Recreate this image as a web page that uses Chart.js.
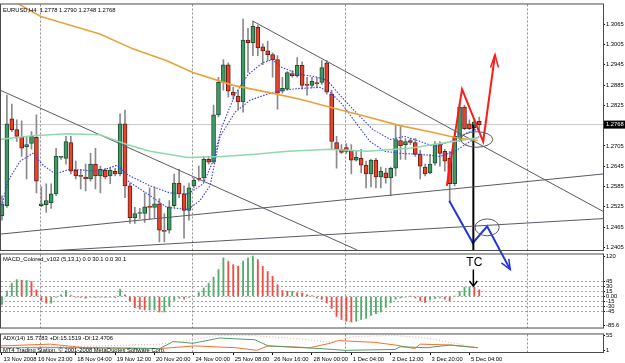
<!DOCTYPE html>
<html>
<head>
<meta charset="utf-8">
<title>EURUSD H4</title>
<script src="https://cdn.jsdelivr.net/npm/chart.js@4.4.1/dist/chart.umd.min.js"></script>
<style>
  html, body { margin: 0; padding: 0; background: #fff; }
  #wrap { position: relative; width: 625px; height: 363px; overflow: hidden; background: #fff; }
  #wrap canvas { position: absolute; left: 0; }
</style>
</head>
<body>
<div id="wrap">
  <canvas id="macdChart" width="625" height="82" style="top:250px"></canvas>
  <canvas id="adxChart" width="625" height="33" style="top:330px"></canvas>
  <canvas id="priceChart" width="625" height="363" style="top:0"></canvas>
</div>
<script>
// ---------------- data ----------------
const titleText = 'EURUSD,H4  1.2778 1.2790 1.2748 1.2768';
const timeLabels = ['13 Nov 2008', '16 Nov 23:00', '18 Nov 04:00', '19 Nov 12:00', '20 Nov 20:00', '24 Nov 00:00',
  '25 Nov 08:00', '26 Nov 16:00', '28 Nov 00:00', '1 Dec 04:00', '2 Dec 12:00', '3 Dec 20:00', '5 Dec 04:00'];
const timeLabelBars = [0, 7, 15, 23, 31, 39, 47, 55, 63, 71, 79, 87, 95];
const gridBars = [7.9, 38.8, 69.8, 106.8];
const priceTicks = [1.3065, 1.3005, 1.2945, 1.2885, 1.2825, 1.2705, 1.2645, 1.2585, 1.2525, 1.2465, 1.2405];
const macdTicks = [120, 45, 30, 15, 0, -15, -30, -45, -85.6];
const macdLevels = [45, 30, 15, 0, -15, -30, -45];
const adxTicks = [55, 1];

const opens = [1.2499, 1.2528, 1.2785, 1.2753, 1.2730, 1.2703, 1.2712, 1.2730, 1.2528, 1.2531,
  1.2537, 1.2563, 1.2671, 1.2668, 1.2715, 1.2633, 1.2616, 1.2613, 1.2607, 1.2651,
  1.2616, 1.2633, 1.2616, 1.2630, 1.2622, 1.2770, 1.2587, 1.2493, 1.2505, 1.2505,
  1.2525, 1.2523, 1.2534, 1.2453, 1.2456, 1.2528, 1.2595, 1.2563, 1.2514, 1.2587,
  1.2607, 1.2610, 1.2665, 1.2657, 1.2797, 1.2893, 1.2945, 1.2864, 1.2852, 1.2835,
  1.3018, 1.3010, 1.3056, 1.2998, 1.2986, 1.2975, 1.2960, 1.2867, 1.2873, 1.2919,
  1.2913, 1.2943, 1.2887, 1.2884, 1.2890, 1.2893, 1.2951, 1.2858, 1.2715, 1.2695,
  1.2700, 1.2692, 1.2663, 1.2668, 1.2648, 1.2622, 1.2663, 1.2613, 1.2625, 1.2610,
  1.2639, 1.2721, 1.2709, 1.2721, 1.2715, 1.2680, 1.2642, 1.2625, 1.2654, 1.2709,
  1.2689, 1.2668, 1.2593, 1.2727, 1.2820, 1.2770, 1.2759, 1.2778];
const highs = [1.2557, 1.2855, 1.2829, 1.2782, 1.2779, 1.2733, 1.2747, 1.2797, 1.2584, 1.2593,
  1.2593, 1.2698, 1.2674, 1.2733, 1.2733, 1.2660, 1.2636, 1.2651, 1.2683, 1.2698,
  1.2645, 1.2639, 1.2639, 1.2639, 1.2800, 1.2811, 1.2595, 1.2523, 1.2520, 1.2566,
  1.2581, 1.2584, 1.2549, 1.2505, 1.2543, 1.2622, 1.2636, 1.2587, 1.2595, 1.2610,
  1.2645, 1.2674, 1.2674, 1.2826, 1.2908, 1.2960, 1.2951, 1.2878, 1.2870, 1.3080,
  1.3053, 1.3074, 1.3062, 1.3007, 1.3015, 1.2980, 1.2972, 1.2908, 1.2925, 1.2928,
  1.2966, 1.2954, 1.2908, 1.2908, 1.2908, 1.2957, 1.2957, 1.2870, 1.2733, 1.2709,
  1.2712, 1.2709, 1.2689, 1.2695, 1.2660, 1.2665, 1.2668, 1.2642, 1.2639, 1.2642,
  1.2768, 1.2762, 1.2727, 1.2727, 1.2727, 1.2692, 1.2651, 1.2680, 1.2718, 1.2718,
  1.2695, 1.2689, 1.2747, 1.2829, 1.2826, 1.2782, 1.2785, 1.2790];
const lows = [1.2485, 1.2523, 1.2747, 1.2718, 1.2674, 1.2607, 1.2695, 1.2566, 1.2525, 1.2508,
  1.2520, 1.2558, 1.2665, 1.2651, 1.2622, 1.2607, 1.2578, 1.2572, 1.2601, 1.2578,
  1.2566, 1.2607, 1.2593, 1.2616, 1.2616, 1.2552, 1.2476, 1.2476, 1.2490, 1.2479,
  1.2488, 1.2493, 1.2421, 1.2421, 1.2447, 1.2523, 1.2552, 1.2432, 1.2485, 1.2581,
  1.2601, 1.2601, 1.2651, 1.2654, 1.2791, 1.2870, 1.2849, 1.2843, 1.2814, 1.2805,
  1.2922, 1.2972, 1.2972, 1.2945, 1.2957, 1.2908, 1.2814, 1.2861, 1.2870, 1.2908,
  1.2908, 1.2873, 1.2855, 1.2878, 1.2878, 1.2887, 1.2858, 1.2695, 1.2639, 1.2683,
  1.2683, 1.2622, 1.2660, 1.2625, 1.2581, 1.2584, 1.2581, 1.2581, 1.2595, 1.2558,
  1.2616, 1.2665, 1.2665, 1.2709, 1.2674, 1.2607, 1.2616, 1.2622, 1.2648, 1.2645,
  1.2630, 1.2543, 1.2587, 1.2718, 1.2753, 1.2753, 1.2753, 1.2748];
const closes = [1.2534, 1.2770, 1.2753, 1.2733, 1.2698, 1.2709, 1.2733, 1.2601, 1.2534, 1.2543,
  1.2563, 1.2674, 1.2672, 1.2718, 1.2630, 1.2616, 1.2615, 1.2607, 1.2651, 1.2616,
  1.2636, 1.2613, 1.2633, 1.2622, 1.2770, 1.2587, 1.2493, 1.2505, 1.2506, 1.2525,
  1.2523, 1.2534, 1.2456, 1.2452, 1.2525, 1.2595, 1.2563, 1.2514, 1.2581, 1.2604,
  1.2606, 1.2665, 1.2657, 1.2797, 1.2893, 1.2945, 1.2867, 1.2855, 1.2835, 1.3018,
  1.3010, 1.3059, 1.2995, 1.2986, 1.2975, 1.2960, 1.2861, 1.2875, 1.2922, 1.2913,
  1.2943, 1.2884, 1.2884, 1.2896, 1.2889, 1.2937, 1.2864, 1.2718, 1.2695, 1.2686,
  1.2689, 1.2663, 1.2671, 1.2648, 1.2622, 1.2663, 1.2613, 1.2630, 1.2610, 1.2639,
  1.2724, 1.2706, 1.2718, 1.2715, 1.2680, 1.2645, 1.2622, 1.2651, 1.2709, 1.2683,
  1.2660, 1.2593, 1.2733, 1.2820, 1.2756, 1.2756, 1.2776, 1.2768];

// moving averages: [bar, price]
const maOrange = [[3.2, 1.3126], [7.9, 1.3088], [13.2, 1.3065], [19.9, 1.3036], [26.6, 1.2992], [33.5, 1.2957],
  [38.8, 1.2922], [47.0, 1.2884], [53.9, 1.2864], [60.6, 1.2843], [67.3, 1.2817], [74.2, 1.2791],
  [80.9, 1.2765], [87.0, 1.2747], [92.1, 1.2730], [96.7, 1.2721]];
const maGreen = [[-0.4, 1.2724], [6.3, 1.2735], [13.2, 1.2741], [19.9, 1.2738], [25.4, 1.2709], [30.1, 1.2689],
  [37.8, 1.2671], [44.7, 1.2674], [51.4, 1.2680], [58.1, 1.2689], [66.7, 1.2695], [74.2, 1.2689],
  [82.9, 1.2698], [89.0, 1.2712], [93.1, 1.2721], [97.0, 1.2730]];
const maBlueFast = [[0, 1.2528], [1.2, 1.2601], [3.7, 1.2660], [6.3, 1.2683], [8.1, 1.2651], [10.8, 1.2622],
  [13.8, 1.2636], [19.9, 1.2630], [23.4, 1.2648], [25.6, 1.2619], [30.1, 1.2587], [34.1, 1.2566],
  [37.8, 1.2563], [40.9, 1.2593], [42.9, 1.2660], [44.7, 1.2762], [47.4, 1.2858], [50.0, 1.2916],
  [53.0, 1.2951], [54.9, 1.2960], [56.9, 1.2937], [60.6, 1.2916], [63.6, 1.2910], [66.1, 1.2899],
  [68.7, 1.2855], [71.3, 1.2814], [75.4, 1.2753], [78.9, 1.2724], [81.9, 1.2733], [85.0, 1.2718],
  [88.0, 1.2703], [91.1, 1.2718], [94.1, 1.2741], [97.0, 1.2756]];
const maBlueSlow = [[25.6, 1.2601], [30.1, 1.2558], [33.5, 1.2523], [37.8, 1.2517], [40.2, 1.2543], [42.3, 1.2587],
  [44.3, 1.2733], [47.4, 1.2805], [50.4, 1.2840], [53.9, 1.2858], [57.1, 1.2870], [60.6, 1.2875],
  [64.6, 1.2878], [66.7, 1.2864], [69.1, 1.2829], [72.2, 1.2768], [74.8, 1.2718], [77.8, 1.2689],
  [80.9, 1.2683], [85.0, 1.2680], [89.0, 1.2674], [92.1, 1.2689], [95.1, 1.2718], [97.0, 1.2733]];

// hand-drawn trend lines and arrows: [bar, price]
const trendLines = [
  [[-0.4, 1.2870], [72.2, 1.2397]],
  [[51.0, 1.3074], [122.2, 1.2511]],
  [[-0.4, 1.2444], [122.2, 1.2622]],
  [[-0.4, 1.2386], [122.2, 1.2490]]
];
const redPath = [[90.4, 1.2587], [93.5, 1.2873], [97.8, 1.2718], [100.2, 1.2975]];
const redHead = [[99.3, 1.2937], [100.2, 1.2975], [100.9, 1.2937]];
const bluePath = [[90.9, 1.2543], [95.7, 1.2418], [98.6, 1.2467], [103.3, 1.2339]];
const blueHead = [[101.5, 1.2359], [103.3, 1.2339], [103.0, 1.2371]];
const markerLine = [[95.8, 1.2768], [95.8, 1.2397]];
const ellipses = [[96.5, 1.2724, 3.25, 0.0023], [98.6, 1.2464, 2.45, 0.0025]];

const macdHist = [-25, 15, 40, 50, 48, 48, 45, 20, -12, -20,
  -20, -3, 5, 18, 3, -2, -3, -5, -2, -3,
  -2, -3, -2, -3, 22, 5, -15, -33, -38, -40,
  -40, -40, -46, -46, -30, -12, -5, -8, -3, 0,
  12, 25, 40, 57, 80, 115, 105, 95, 90, 105,
  115, 120, 110, 90, 75, 60, 35, 18, 15, 15,
  12, 10, 5, 3, -4, -8, -18, -36, -60, -69,
  -74, -76, -74, -69, -65, -56, -51, -46, -32, -18,
  -8, -4, -2, 1, -4, -13, -18, -10, -6, -4,
  -8, -13, 1, 15, 27, 29, 27, 20];
const tcArrow = [[95.8, 80], [95.8, 31]];
const tcHead = [[95.0, 46], [95.8, 31], [96.6, 46]];

const adxMain = [[-0.4, 10.5], [19.9, 16.9], [32.1, 23.3], [37.6, 36], [43.7, 54], [51.0, 54], [60.6, 42],
  [66.7, 30], [71.3, 50], [79.5, 55], [86.4, 45], [93.1, 23], [96.5, 10.5]];
const adxPlus = [[-0.4, 16.9], [9.8, 23.3], [16.9, 10.5], [32.1, 7.4], [39.2, 16.9], [47.4, 10.5], [51.8, 1],
  [54.1, 16.9], [62.6, 10.5], [66.7, 26.4], [68.3, 36], [75.8, 29.6], [79.9, 20.1], [83.9, 7.4],
  [85.0, 23.3], [91.1, 20.1], [96.7, 10.5]];
const adxMinus = [[-0.4, 10.5], [13.8, 10.5], [32.1, 7.4], [34.8, 32.8], [38.8, 26.4], [44.3, 45.5], [47.4, 42.3],
  [51.4, 39.1], [54.1, 16.9], [64.6, 7.4], [69.7, 1], [79.9, 4.2], [80.9, 13.7], [86.4, 10.5],
  [91.1, 20.1], [96.7, 10.5]];

// ---------------- setup ----------------
const FONT = '"Liberation Sans", Arial, sans-serif';
const SMALL = 5.8;
Chart.defaults.font.family = FONT;
Chart.defaults.font.size = SMALL;
Chart.defaults.color = '#000';

const xMin = -0.2, xMax = 122.15;
const bars = closes.map((c, i) => i);
const up = bars.map(i => closes[i] >= opens[i]);

function pts(arr) { return arr.map(p => ({ x: p[0], y: p[1] })); }
function lineDs(arr, color, width, extra) {
  return Object.assign({ type: 'line', data: pts(arr), borderColor: color, borderWidth: width,
    pointRadius: 0, tension: 0, fill: false, order: 0 }, extra || {});
}
function gridX() {
  return {
    type: 'linear', min: xMin, max: xMax, offset: false,
    ticks: { display: false },
    grid: { display: true, drawTicks: false, offset: false, color: '#8c8c8c', lineWidth: 1, borderDash: [2, 2] },
    border: { display: false, dash: [2, 2] },
    afterBuildTicks: s => { s.ticks = gridBars.map(v => ({ value: v })); },
    afterFit: s => { s.height = 0; }
  };
}
const framePlugin = {
  id: 'frame',
  afterDraw(chart) {
    const { ctx, chartArea: a } = chart;
    ctx.save();
    ctx.strokeStyle = '#4a4a4a';
    ctx.lineWidth = 1;
    ctx.strokeRect(a.left - 0.5, a.top - 0.5, a.right - a.left + 1, a.bottom - a.top + 1);
    ctx.restore();
  }
};
const common = { responsive: false, animation: false, events: [],
  plugins: { legend: { display: false }, tooltip: { enabled: false } } };

// ---------------- price chart ----------------
const mainOverlay = {
  id: 'mainOverlay',
  afterDatasetsDraw(chart) {
    const { ctx, chartArea: a, scales: { x, y } } = chart;
    ctx.save();
    ctx.strokeStyle = '#5a5a5a';
    ctx.lineWidth = 1;
    ellipses.forEach(e => {
      const cx = x.getPixelForValue(e[0]), cy = y.getPixelForValue(e[1]);
      const rx = Math.abs(x.getPixelForValue(e[0] + e[2]) - cx);
      const ry = Math.abs(y.getPixelForValue(e[1] + e[3]) - cy);
      ctx.beginPath();
      ctx.ellipse(cx, cy, rx, ry, 0, 0, Math.PI * 2);
      ctx.stroke();
    });
    ctx.font = SMALL + 'px ' + FONT;
    ctx.textBaseline = 'middle';
    ctx.fillStyle = '#000';
    ctx.fillText(titleText, a.left + 2, a.top + 6);
    const last = closes[closes.length - 1];
    const py = y.getPixelForValue(last);
    ctx.fillRect(a.right + 1, py - 4, 22, 8);
    ctx.fillStyle = '#fff';
    ctx.fillText(last.toFixed(4), a.right + 3, py);
    ctx.restore();
  }
};

new Chart(document.getElementById('priceChart'), {
  type: 'bar',
  data: {
    datasets: [
      { type: 'bar', data: bars.map(i => ({ x: i, y: [opens[i], closes[i]] })),
        backgroundColor: up.map(u => u ? '#3f9a64' : '#e8432c'),
        borderColor: up.map(u => u ? '#1f4f33' : '#6e1c12'),
        borderWidth: 1, borderSkipped: false, barThickness: 4, minBarLength: 1, grouped: false, order: 2 },
      { type: 'bar', data: bars.map(i => ({ x: i, y: [lows[i], highs[i]] })),
        backgroundColor: '#8a8a8a', borderWidth: 0, barThickness: 1, grouped: false, order: 3 },
      lineDs([[xMin, closes[closes.length - 1]], [xMax, closes[closes.length - 1]]], '#c8c8c8', 1, { order: 4 }),
      lineDs(maGreen, '#8fd8ae', 1.5),
      lineDs(maOrange, '#e6a33a', 1.6),
      lineDs(maBlueFast, '#3b3bf0', 1.1, { borderDash: [1.5, 1.5] }),
      lineDs(maBlueSlow, '#3b3bf0', 1.1, { borderDash: [1.5, 1.5] }),
      ...trendLines.map(t => lineDs(t, '#5a5a66', 1)),
      lineDs(markerLine, '#000', 2, { clip: false }),
      lineDs(redPath, '#ff1a1a', 2, { clip: false }),
      lineDs(redHead, '#ff1a1a', 1.5, { clip: false }),
      lineDs(bluePath, '#1f35e0', 2, { clip: false }),
      lineDs(blueHead, '#1f35e0', 1.5, { clip: false })
    ]
  },
  options: Object.assign({}, common, {
    layout: { padding: { left: 1, top: 1, right: 0, bottom: 113 } },
    scales: {
      x: gridX(),
      y: {
        position: 'right', min: 1.23971, max: 1.31233, beginAtZero: false,
        afterBuildTicks: s => { s.ticks = priceTicks.map(v => ({ value: v })); },
        afterFit: s => { s.width = 22; },
        ticks: { autoSkip: false, padding: 1, callback: v => v.toFixed(4) },
        grid: { drawOnChartArea: false, drawTicks: true, tickLength: 2, tickColor: '#000' },
        border: { display: false }
      }
    }
  }),
  plugins: [framePlugin, mainOverlay]
});

// ---------------- MACD chart ----------------
const macdOverlay = {
  id: 'macdOverlay',
  afterDatasetsDraw(chart) {
    const { ctx, chartArea: a, scales: { x, y } } = chart;
    ctx.save();
    ctx.fillStyle = '#000';
    ctx.textBaseline = 'middle';
    ctx.font = SMALL + 'px ' + FONT;
    ctx.fillText('MACD_Colored_v102 (5,13,1) 0.0 30.1 0.0 30.1', a.left + 2, a.top + 5);
    ctx.font = '12px ' + FONT;
    ctx.textAlign = 'center';
    ctx.fillText('TC', x.getPixelForValue(tcArrow[0][0]) + 1, y.getPixelForValue(100));
    ctx.restore();
  }
};
new Chart(document.getElementById('macdChart'), {
  type: 'bar',
  data: {
    datasets: [
      { type: 'bar', data: bars.map(i => ({ x: i, y: macdHist[i] })),
        backgroundColor: bars.map(i => (i === 0 || macdHist[i] >= macdHist[i - 1]) ? '#52ad6d' : '#eb4f45'),
        borderWidth: 0, barThickness: 1.2, grouped: false, order: 2 },
      // signal (period 1) runs along the bar tops as a faint dotted line
      { type: 'line', data: bars.map(i => ({ x: i, y: macdHist[i] })), borderColor: '#c4c4c4',
        borderWidth: 1, borderDash: [1, 2], pointRadius: 0, tension: 0, fill: false, order: 1 },
      lineDs(tcArrow, '#000', 1.5),
      lineDs(tcHead, '#000', 1.5)
    ]
  },
  options: Object.assign({}, common, {
    layout: { padding: { left: 1, top: 2, right: 0, bottom: 2 } },
    scales: {
      x: gridX(),
      y: {
        position: 'right', min: -92.3, max: 125, beginAtZero: false,
        afterBuildTicks: s => { s.ticks = macdTicks.map(v => ({ value: v })); },
        afterFit: s => { s.width = 22; },
        ticks: { autoSkip: false, padding: 1, callback: v => v === 0 ? '0.00' : String(v) },
        grid: { drawOnChartArea: true, drawTicks: true, tickLength: 2, tickColor: '#000', borderDash: [2, 2],
          color: c => (c.tick && macdLevels.includes(c.tick.value)) ? '#a8a8a8' : 'rgba(0,0,0,0)' },
        border: { display: false, dash: [2, 2] }
      }
    }
  }),
  plugins: [framePlugin, macdOverlay]
});

// ---------------- ADX chart ----------------
const adxOverlay = {
  id: 'adxOverlay',
  afterDatasetsDraw(chart) {
    const { ctx, chartArea: a } = chart;
    ctx.save();
    ctx.fillStyle = '#000';
    ctx.textBaseline = 'middle';
    ctx.font = SMALL + 'px ' + FONT;
    ctx.fillText('ADX(14) 15.7783 +DI:15.1519 -DI:12.4706', a.left + 2, a.top + 4);
    ctx.fillText('MT4 Trading Station, \u00a9 2001-2008 MetaQuotes Software Corp.', a.left + 2, a.top + 16);
    ctx.restore();
  }
};
new Chart(document.getElementById('adxChart'), {
  type: 'line',
  data: {
    datasets: [
      lineDs(adxMain, '#f2a6a6', 1, { borderDash: [1, 2] }),
      lineDs(adxMinus, '#4f9f6c', 1),
      lineDs(adxPlus, '#f2702e', 1)
    ]
  },
  options: Object.assign({}, common, {
    layout: { padding: { left: 1, top: 2, right: 0, bottom: 0 } },
    scales: {
      x: {
        type: 'linear', min: xMin, max: xMax, offset: false, position: 'bottom',
        afterBuildTicks: s => { s.ticks = timeLabelBars.map(v => ({ value: v })); },
        afterFit: s => { s.height = 11; },
        ticks: { autoSkip: false, maxRotation: 0, align: 'start', padding: 1, labelOffset: 1.5,
          callback: v => timeLabels[timeLabelBars.indexOf(v)] },
        grid: { drawOnChartArea: false, drawTicks: true, tickLength: 3, tickColor: '#000', offset: false },
        border: { display: false }
      },
      xg: gridX(),
      y: {
        position: 'right', min: -5, max: 58, beginAtZero: false,
        afterBuildTicks: s => { s.ticks = adxTicks.map(v => ({ value: v })); },
        afterFit: s => { s.width = 22; },
        ticks: { autoSkip: false, padding: 1 },
        grid: { drawOnChartArea: false, drawTicks: true, tickLength: 2, tickColor: '#000' },
        border: { display: false }
      }
    }
  }),
  plugins: [framePlugin, adxOverlay]
});
</script>
</body>
</html>
